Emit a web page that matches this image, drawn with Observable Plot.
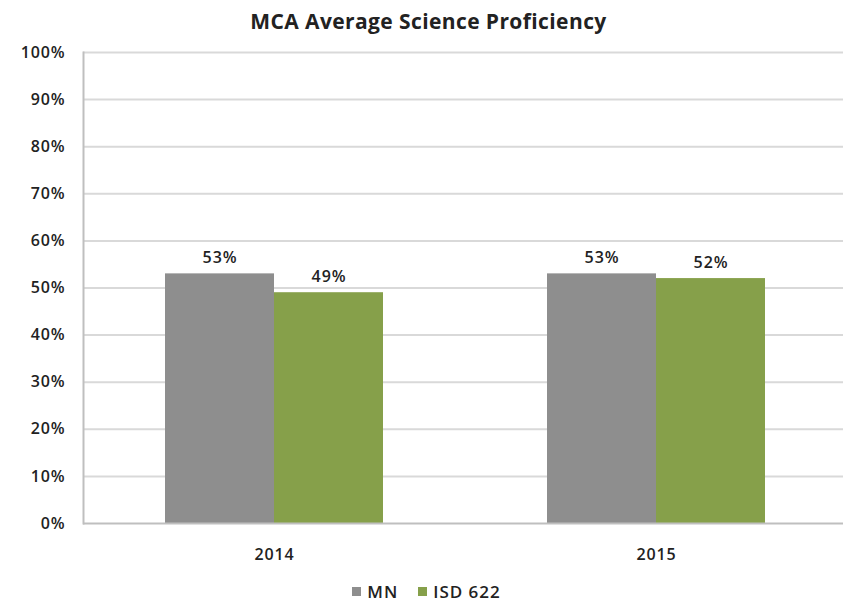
<!DOCTYPE html>
<html>
<head>
<meta charset="utf-8">
<script src="https://cdn.jsdelivr.net/npm/d3@7"></script>
<script src="https://cdn.jsdelivr.net/npm/@observablehq/plot@0.6"></script>
<style>
  body { margin: 0; background: #fff; font-family: "Open Sans", sans-serif; }
  #title { height: 40px; line-height: 42px; text-align: center; font-weight: 700; font-size: 21px; color: #222; letter-spacing: 0.4px; margin-left: 14px; }
  #chart svg text { letter-spacing: 0.9px; font-weight: 600; }
  #legend { display: flex; justify-content: center; align-items: center; gap: 20px; font-size: 17px; font-weight: 600; color: #222; margin-left: 10px; letter-spacing: 1px; margin-top: 10px; }
  #legend span.sw { display: inline-block; width: 9px; height: 9px; margin-right: 6px; vertical-align: 2px; }
</style>
</head>
<body>
<div id="title">MCA Average Science Proficiency</div>
<div id="chart"></div>
<div id="legend"></div>
<script>
const years = ["2014", "2015"];
const seriesNames = ["MN", "ISD 622"];
const mnValues = [53, 53];
const isdValues = [49, 52];
const seriesColors = ["#8e8e8e", "#86a04a"];
const yTicks = [0, 10, 20, 30, 40, 50, 60, 70, 80, 90, 100];

const data = [];
years.forEach((y, i) => {
  data.push({year: y, series: seriesNames[0], value: mnValues[i]});
  data.push({year: y, series: seriesNames[1], value: isdValues[i]});
});

const plot = Plot.plot({
  width: 843,
  height: 530,
  marginLeft: 82,
  marginRight: -4,
  marginTop: 12,
  marginBottom: 47,
  style: {fontFamily: "Open Sans, sans-serif", fontSize: "16px", color: "#222", background: "#fff"},
  fx: {domain: years, paddingInner: 0, paddingOuter: 0, label: null},
  x: {domain: seriesNames, paddingInner: 0, paddingOuter: 0.74, align: 0.5, axis: null},
  y: {domain: [0, 100], label: null},
  color: {domain: seriesNames, range: seriesColors},
  marks: [
    Plot.ruleY(yTicks.filter(d => d > 0), {stroke: "#d9d9d9", strokeWidth: 2}),
    Plot.barY(data, {fx: "year", x: "series", y: "value", fill: "series"}),
    Plot.text(data, {fx: "year", x: "series", y: "value", text: d => d.value + "%", dy: -16, fill: "#222", fontSize: 16}),
    Plot.ruleY([0], {stroke: "#bfbfbf", strokeWidth: 2}),
    Plot.frame({anchor: "left", facetAnchor: "left", stroke: "#bfbfbf", strokeWidth: 2}),
    Plot.axisY({ticks: yTicks, tickFormat: d => d + "%", tickSize: 0, tickPadding: 18, label: null, fontSize: 16}),
    Plot.axisFx({anchor: "bottom", tickSize: 0, tickPadding: 25, label: null, fontSize: 16})
  ]
});
document.getElementById("chart").appendChild(plot);

const legend = document.getElementById("legend");
seriesNames.forEach((s, i) => {
  const item = document.createElement("div");
  item.innerHTML = `<span class="sw" style="background:${seriesColors[i]}"></span>${s}`;
  legend.appendChild(item);
});
</script>
</body>
</html>
